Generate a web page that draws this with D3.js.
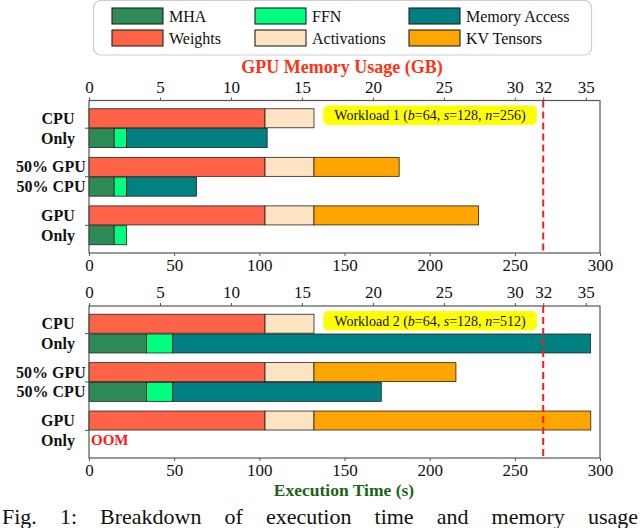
<!DOCTYPE html>
<html>
<head>
<meta charset="utf-8">
<script src="https://cdn.jsdelivr.net/npm/d3@7"></script>
<style>
  html, body { margin: 0; padding: 0; background: #fff; }
  svg { display: block; font-family: "Liberation Serif", "Times New Roman", serif; }
</style>
</head>
<body>
<svg id="svg1" width="640" height="528"></svg>
<script>
"use strict";

// configurations shown on the y axis (two text lines per group)
const configs = ["cpu", "half", "gpu"];
const labelTop = ["CPU", "50% GPU", "GPU"];
const labelBottom = ["Only", "50% CPU", "Only"];

// execution time (s) per part, workload 1 and workload 2
const w1Mha = [14.8, 14.8, 14.8];
const w1Ffn = [7.3, 7.3, 7.3];
const w1Mem = [82.5, 41.0, 0];
const w2Mha = [33.8, 33.8, 0];
const w2Ffn = [15.2, 15.2, 0];
const w2Mem = [245.5, 122.6, 0];

// GPU memory (GB) per part
const w1Weights = [12.4, 12.4, 12.4];
const w1Act = [3.45, 3.45, 3.45];
const w1Kv = [0, 6.0, 11.6];
const w2Weights = [12.4, 12.4, 12.4];
const w2Act = [3.45, 3.45, 3.45];
const w2Kv = [0, 10.0, 19.5];

const workloadText = ["Workload 1", "Workload 2"];
const workloadN = ["256", "512"];
const oom = [[false, false, false], [false, false, true]];

// axis ticks
const timeTicks = [0, 50, 100, 150, 200, 250, 300];
const memTicks = [0, 5, 10, 15, 20, 25, 30, 32, 35];
const gpuLimit = 32;

const timeKeys = ["MHA", "FFN", "Memory Access"];
const memKeys = ["Weights", "Activations", "KV Tensors"];
const colors = {
  "MHA": "#2e8b57", "FFN": "#00ff7f", "Memory Access": "#008080",
  "Weights": "#ff6347", "Activations": "#ffe4c4", "KV Tensors": "#ffa500"
};

let svg = d3.select("#svg1");
let left = 89, right = 600;

let xTime = d3.scaleLinear().domain([0, 300]).range([left, right]);
let xMem = d3.scaleLinear().domain([0, 36]).range([left, right]);

// ---- legend ----
svg.append("rect")
  .attr("x", 93.5).attr("y", 0.5).attr("width", 498).attr("height", 54.5)
  .attr("rx", 7).attr("fill", "#fff").attr("stroke", "#cfcfcf").attr("stroke-width", 1.2);

const legendOrder = ["MHA", "FFN", "Memory Access", "Weights", "Activations", "KV Tensors"];
const legendCols = [112, 255, 409];
const legendRows = [8, 30];
legendOrder.forEach((k, i) => {
  let cx = legendCols[i % 3], cy = legendRows[Math.floor(i / 3)];
  svg.append("rect").attr("x", cx).attr("y", cy).attr("width", 51).attr("height", 16)
    .attr("fill", colors[k]).attr("stroke", "#222").attr("stroke-width", 1.1);
  svg.append("text").attr("x", cx + 57).attr("y", cy + 13.5)
    .attr("font-size", 16).attr("fill", "#111").text(k);
});

// ---- top title ----
svg.append("text")
  .attr("x", 342).attr("y", 72.5)
  .attr("text-anchor", "middle").attr("font-size", 18).attr("font-weight", "bold")
  .attr("fill", "#ff3311").text("GPU Memory Usage (GB)");

// draws one panel
function drawPanel(top, bottom, d, idx) {
  let y = d3.scaleBand().domain(configs).range([top, bottom])
    .paddingInner(0.2).paddingOuter(0.17);
  let ySub = d3.scaleBand().domain(["mem", "time"]).range([0, y.bandwidth()]).paddingInner(0.04);

  let g = svg.append("g");

  // memory bars (top bar of each group, against GB axis)
  configs.forEach((c, i) => {
    let x0 = 0;
    memKeys.forEach((k, j) => {
      let v = d.mem[j][i];
      if (v > 0) {
        g.append("rect")
          .attr("x", xMem(x0)).attr("y", y(c) + ySub("mem"))
          .attr("width", xMem(x0 + v) - xMem(x0)).attr("height", ySub.bandwidth())
          .attr("fill", colors[k]).attr("stroke", "#222").attr("stroke-width", 0.8);
      }
      x0 += v;
    });
    // time bars (bottom bar, against seconds axis)
    let t0 = 0;
    timeKeys.forEach((k, j) => {
      let v = d.time[j][i];
      if (v > 0) {
        g.append("rect")
          .attr("x", xTime(t0)).attr("y", y(c) + ySub("time"))
          .attr("width", xTime(t0 + v) - xTime(t0)).attr("height", ySub.bandwidth())
          .attr("fill", colors[k]).attr("stroke", "#222").attr("stroke-width", 0.8);
      }
      t0 += v;
    });
    if (oom[idx][i]) {
      g.append("text")
        .attr("x", left + 2).attr("y", y(c) + ySub("time") + ySub.bandwidth() / 2 + 5)
        .attr("font-size", 15).attr("font-weight", "bold").attr("fill", "#ff1a1a").text("OOM");
    }
  });

  // GPU limit line
  g.append("line")
    .attr("x1", xMem(gpuLimit)).attr("x2", xMem(gpuLimit))
    .attr("y1", top).attr("y2", bottom)
    .attr("stroke", "#ff1a1a").attr("stroke-width", 2).attr("stroke-dasharray", "7,4");

  // workload box
  let bx0 = xMem(16.5), bx1 = xMem(31.55);
  g.append("rect")
    .attr("x", bx0).attr("y", top + 5).attr("width", bx1 - bx0).attr("height", 19.5)
    .attr("rx", 5).attr("fill", "#ffff00");
  let t = g.append("text")
    .attr("x", (bx0 + bx1) / 2).attr("y", top + 19.5)
    .attr("text-anchor", "middle").attr("font-size", 14).attr("fill", "#111");
  t.append("tspan").text(d.name + " (");
  t.append("tspan").attr("font-style", "italic").text("b");
  t.append("tspan").text("=64, ");
  t.append("tspan").attr("font-style", "italic").text("s");
  t.append("tspan").text("=128, ");
  t.append("tspan").attr("font-style", "italic").text("n");
  t.append("tspan").text("=" + d.n + ")");

  // frame
  svg.append("rect")
    .attr("x", left).attr("y", top).attr("width", right - left).attr("height", bottom - top)
    .attr("fill", "none").attr("stroke", "#555").attr("stroke-width", 1.2);

  // axes
  let topAxis = svg.append("g").attr("transform", `translate(0,${top})`)
    .call(d3.axisTop(xMem).tickValues(memTicks).tickSize(3).tickSizeOuter(0).tickPadding(5));
  let botAxis = svg.append("g").attr("transform", `translate(0,${bottom})`)
    .call(d3.axisBottom(xTime).tickValues(timeTicks).tickSize(3).tickSizeOuter(0).tickPadding(3));
  [topAxis, botAxis].forEach(a => {
    a.select(".domain").remove();
    a.selectAll(".tick line").attr("stroke", "#555");
    a.selectAll(".tick text").attr("font-size", 17).attr("fill", "#111")
      .attr("font-family", "Liberation Serif, Times New Roman, serif");
  });

  // y ticks and labels
  configs.forEach((c, i) => {
    let cy = y(c) + y.bandwidth() / 2;
    svg.append("line").attr("x1", left - 4).attr("x2", left).attr("y1", cy).attr("y2", cy)
      .attr("stroke", "#555");
    let cx = i === 1 ? 51 : 58;
    svg.append("text").attr("x", cx).attr("y", y(c) + ySub("mem") + ySub.bandwidth() / 2 + 5.5)
      .attr("text-anchor", "middle").attr("font-size", 16).attr("font-weight", "bold")
      .attr("fill", "#111").text(labelTop[i]);
    svg.append("text").attr("x", cx).attr("y", y(c) + ySub("time") + ySub.bandwidth() / 2 + 5.5)
      .attr("text-anchor", "middle").attr("font-size", 16).attr("font-weight", "bold")
      .attr("fill", "#111").text(labelBottom[i]);
  });
}

drawPanel(100.5, 253, {
  name: workloadText[0], n: workloadN[0],
  time: [w1Mha, w1Ffn, w1Mem], mem: [w1Weights, w1Act, w1Kv]
}, 0);
drawPanel(306, 458, {
  name: workloadText[1], n: workloadN[1],
  time: [w2Mha, w2Ffn, w2Mem], mem: [w2Weights, w2Act, w2Kv]
}, 1);

// ---- bottom title ----
svg.append("text")
  .attr("x", 344).attr("y", 496)
  .attr("text-anchor", "middle").attr("font-size", 17.5).attr("font-weight", "bold")
  .attr("fill", "#166616").text("Execution Time (s)");

// ---- caption, justified word by word ----
const captionWords = ["Fig.", "1:", "Breakdown", "of", "execution", "time", "and", "memory", "usage"];
let cap = svg.append("g").attr("font-size", 22).attr("fill", "#111");
let widths = captionWords.map(w => {
  let t = cap.append("text").attr("y", 524).text(w);
  let len = t.node().getComputedTextLength();
  return {node: t, len: len};
});
let total = d3.sum(widths, d => d.len);
let gap = (638 - 2 - total) / (captionWords.length - 1);
let cxPos = 2;
widths.forEach(w => {
  w.node.attr("x", cxPos);
  cxPos += w.len + gap;
});
</script>
</body>
</html>
